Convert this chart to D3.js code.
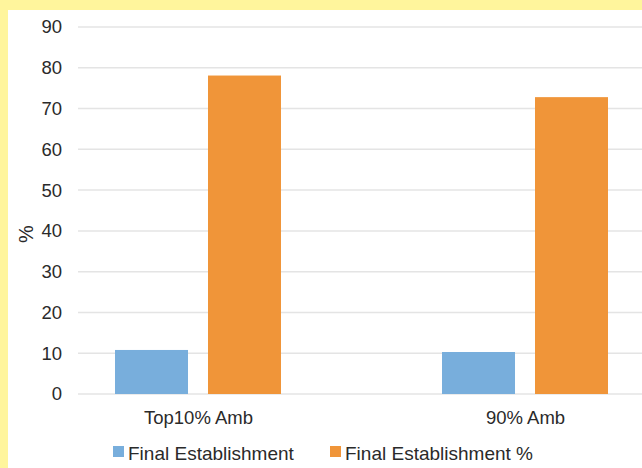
<!DOCTYPE html>
<html>
<head>
<meta charset="utf-8">
<script src="https://cdn.jsdelivr.net/npm/d3@7/dist/d3.min.js"></script>
<style>
  html, body { margin: 0; padding: 0; background: #fff59c; }
  svg { display: block; }
  text { font-family: "Liberation Sans", Arial, sans-serif; fill: #2a2a2a; }
</style>
</head>
<body>
<svg id="chart" width="642" height="468"></svg>
<script>
// Chart data
const categories = ["Top10% Amb", "90% Amb"];
const seriesNames = ["Final Establishment", "Final Establishment %"];
const finalEstablishment = [10.8, 10.3];
const finalEstablishmentPct = [78.1, 72.8];
const yTicks = [0, 10, 20, 30, 40, 50, 60, 70, 80, 90];
const seriesColors = ["#78aedc", "#f09539"];

const seriesValues = [finalEstablishment, finalEstablishmentPct];

const W = 642, H = 468;
const svg = d3.select("#chart");

// White card inside the yellow frame
svg.append("rect")
  .attr("x", 8).attr("y", 10)
  .attr("width", W - 8).attr("height", H - 10)
  .attr("fill", "#ffffff");

const plotLeft = 78, plotRight = 642;
const y = d3.scaleLinear().domain([0, 90]).range([394, 27]);

const x0 = d3.scalePoint().domain(categories).range([198, 525]);
const x1 = d3.scaleBand().domain(seriesNames).range([-83, 83]).paddingInner(0.215);

// Gridlines
svg.append("g")
  .selectAll("line")
  .data(yTicks)
  .join("line")
  .attr("x1", plotLeft).attr("x2", plotRight)
  .attr("y1", d => y(d)).attr("y2", d => y(d))
  .attr("stroke", "#e4e4e4")
  .attr("stroke-width", 1.5);

// Y axis tick labels
const yAxis = d3.axisLeft(y).tickValues(yTicks).tickSize(0).tickPadding(0);
const gy = svg.append("g").attr("transform", "translate(62,0)").call(yAxis);
gy.select(".domain").remove();
gy.selectAll("text")
  .attr("font-size", 18.5)
  .attr("fill", "#2a2a2a")
  .attr("font-family", "Liberation Sans, Arial, sans-serif");

// Y axis title
svg.append("text")
  .attr("transform", "translate(26,234) rotate(-90)")
  .attr("text-anchor", "middle")
  .attr("dominant-baseline", "central")
  .attr("font-size", 20)
  .text("%");

// Bars
const groups = svg.append("g")
  .selectAll("g")
  .data(categories)
  .join("g")
  .attr("transform", d => `translate(${x0(d)},0)`);

groups.selectAll("rect")
  .data((c, i) => seriesNames.map((s, j) => ({ s, j, v: seriesValues[j][i] })))
  .join("rect")
  .attr("x", d => x1(d.s))
  .attr("width", x1.bandwidth())
  .attr("y", d => y(d.v))
  .attr("height", d => y(0) - y(d.v))
  .attr("fill", d => seriesColors[d.j]);

// Category labels
const xAxis = d3.axisBottom(x0).tickSize(0).tickPadding(0);
const gx = svg.append("g").attr("transform", "translate(0,424)").call(xAxis);
gx.select(".domain").remove();
gx.selectAll("text")
  .attr("dy", 0)
  .attr("font-size", 18.5)
  .attr("fill", "#2a2a2a")
  .attr("font-family", "Liberation Sans, Arial, sans-serif");

// Legend
const legendX = [113, 330];
const legend = svg.append("g")
  .selectAll("g")
  .data(seriesNames)
  .join("g")
  .attr("transform", (d, i) => `translate(${legendX[i]},446)`);
legend.append("rect")
  .attr("width", 11).attr("height", 11)
  .attr("fill", (d, i) => seriesColors[i]);
legend.append("text")
  .attr("x", 15).attr("y", 13.5)
  .attr("font-size", 19)
  .text(d => d);
</script>
</body>
</html>
